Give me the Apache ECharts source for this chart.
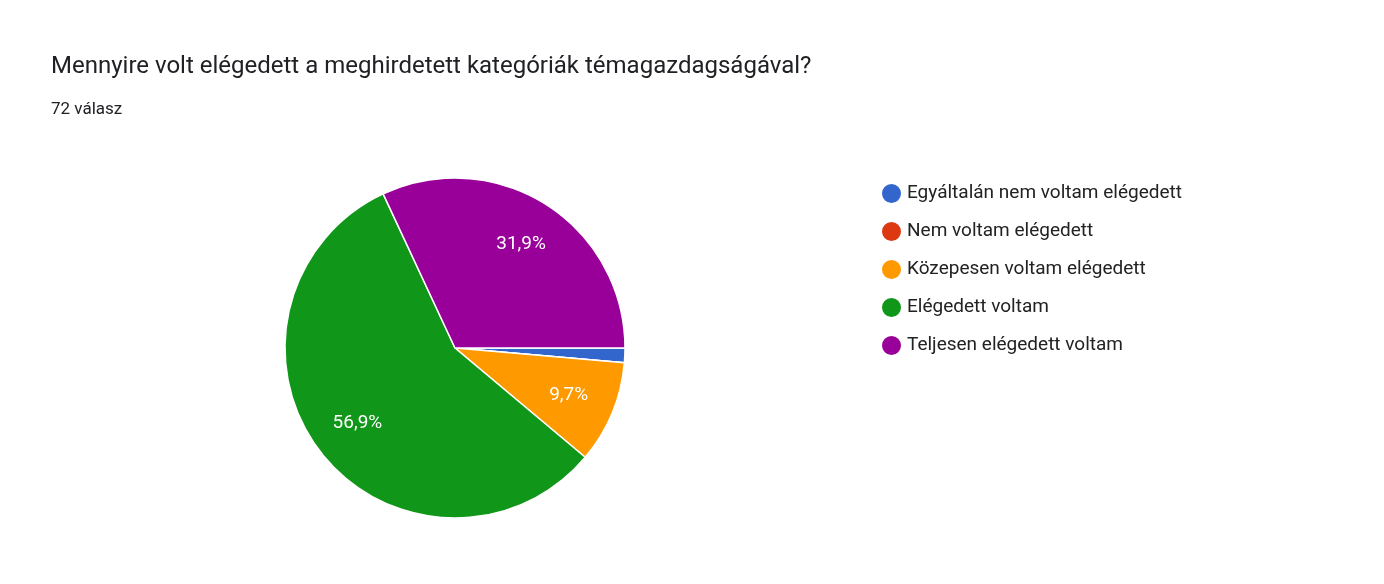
<!DOCTYPE html>
<html><head><meta charset="utf-8">
<script src="https://cdn.jsdelivr.net/npm/echarts@6/dist/echarts.min.js"></script>
<style>html,body{margin:0;padding:0;background:#fff}#c{width:1384px;height:584px}</style>
</head><body><div id="c"></div>
<script>
var categories = ["Egyáltalán nem voltam elégedett","Nem voltam elégedett","Közepesen voltam elégedett","Elégedett voltam","Teljesen elégedett voltam"];
var values = [1, 0, 7, 41, 23];
var colors = ["#3366cc","#dc3912","#ff9900","#109618","#990099"];
var total = values.reduce(function(a,b){return a+b;},0);
var data = categories.map(function(c,i){return {name:c,value:values[i],itemStyle:{color:colors[i]}};});
function pct(v){return (v/total*100).toFixed(1).replace('.',',')+'%';}
var chart = echarts.init(document.getElementById('c'));
chart.setOption({
  animation:false,
  title:[{text:"Mennyire volt elégedett a meghirdetett kategóriák témagazdagságával?",left:46,top:50,textStyle:{fontFamily:'Roboto',fontSize:24,fontWeight:'normal',color:'#202124'}},
         {text:"72 válasz",left:46,top:96,textStyle:{fontFamily:'Roboto',fontSize:17,fontWeight:'normal',color:'#202124'}}],
  legend:{orient:'vertical',left:875,top:177,icon:'circle',itemWidth:21,itemHeight:21,itemGap:15,
    data:categories,textStyle:{fontFamily:'Roboto',fontSize:19,color:'#222'}},
  series:[
    {type:'pie',center:[455,348],radius:[0,170],startAngle:0,clockwise:true,data:data,
     itemStyle:{borderColor:'#fff',borderWidth:1.5},label:{show:false},labelLine:{show:false},silent:true},
    {type:'pie',center:[455,348],radius:[0,240],startAngle:0,clockwise:true,silent:true,
     data:categories.map(function(c,i){return {name:c,value:values[i]};}),
     itemStyle:{color:'rgba(0,0,0,0)'},
     label:{show:true,position:'inside',color:'#fff',fontFamily:'Roboto',fontSize:19,
       formatter:function(p){return p.value/total<0.05?'':pct(p.value);}},
     labelLine:{show:false},legendHoverLink:false}
  ]
});
</script></body></html>
